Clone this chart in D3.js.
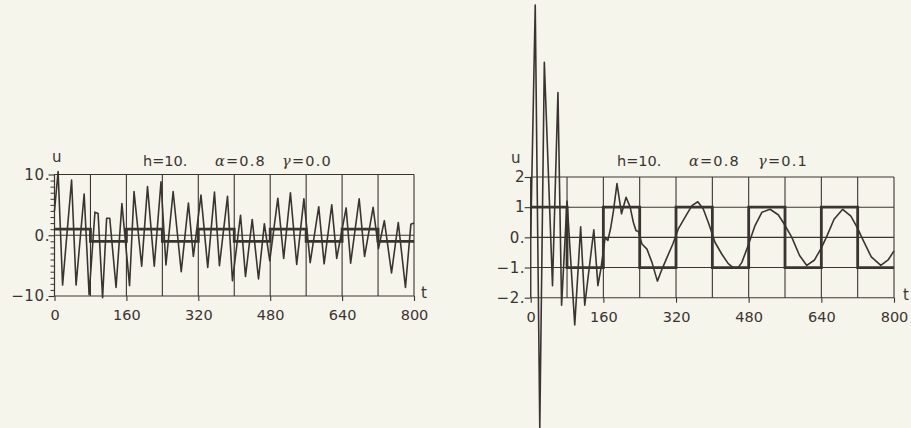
<!DOCTYPE html>
<html>
<head>
<meta charset="utf-8">
<script src="https://cdn.jsdelivr.net/npm/d3@7"></script>
<style>
  html, body { margin: 0; padding: 0; background: #f6f5ec; }
  svg { display: block; }
  text { font-family: "DejaVu Sans", sans-serif; fill: #3a3431; }
</style>
</head>
<body>
<svg id="chart" width="911" height="428"></svg>
<script>
// ---------- data ----------
const xTicks = [0, 160, 320, 480, 640, 800];
const xTickLabels = ["0", "160", "320", "480", "640", "800"];
const gridT = [0, 80, 160, 240, 320, 400, 480, 560, 640, 720, 800];

// reference square wave: level held from each switch time
const squareT = [0, 80, 160, 240, 320, 400, 480, 560, 640, 720, 800];
const squareLevel = [1, -1, 1, -1, 1, -1, 1, -1, 1, -1, -1];

// left panel  (h=10, alpha=0.8, gamma=0.0)
const leftYTicks = [-10, 0, 10];
const leftYLabels = ["\u221210.", "0.", "10."];
const leftT = [0, 8, 18, 38, 48, 66, 77, 90, 97, 107, 116, 123, 137, 150, 167, 177, 194, 207, 222, 237,
  248, 264, 282, 298, 309, 326, 341, 356, 367, 385, 396, 414, 425, 440, 454, 467, 479, 497, 510,
  525, 539, 555, 569, 588, 600, 617, 628, 649, 659, 678, 690, 709, 721, 734, 750, 765, 781, 793, 800];
const leftU = [4, 10.5, -8.2, 9.1, -8.2, 6.8, -9.8, 3.8, 3.6, -10.3, 2.8, 2.8, -8.6, 5.2, -8.3, 7.2, -5.1, 8.0, -5.1, 8.8,
  -4.9, 7.2, -6.0, 5.3, -3.5, 6.6, -5.3, 7.1, -5.0, 6.4, -7.5, 3.3, -6.8, 2.6, -7.2, 1.9, -4.2, 6.1, -3.8,
  7.0, -4.8, 6.0, -4.5, 4.7, -4.7, 5.0, -3.8, 4.5, -4.6, 6.0, -3.5, 4.6, -2.2, 2.4, -6.2, 2.1, -8.6, 1.8, 2.0];

// right panel (h=10, alpha=0.8, gamma=0.1)
const rightYTicks = [-2, -1, 0, 1, 2];
const rightYLabels = ["\u22122.", "\u22121.", "0.", "1", "2"];
const rightT = [0, 10, 20, 30, 48, 60, 68, 80, 97, 110, 119, 139, 148, 155, 164, 170, 176, 182, 190, 200,
  210, 219, 226, 232, 237, 245, 256, 267, 279, 289, 300, 313, 325, 340, 355, 368, 380, 391, 406, 421,
  435, 446, 457, 465, 480, 494, 509, 527, 545, 560, 575, 592, 608, 625, 640, 651, 668, 687, 705, 720,
  729, 750, 771, 787, 800];
const rightU = [0, 7.7, -6.3, 5.8, -1.6, 4.8, -2.25, 1.2, -2.9, 0.35, -2.25, 0.25, -1.6, -1.0, 0.0, -0.1, 0.3, 0.85, 1.78, 0.78,
  1.33, 1.0, 0.5, 0.22, 0.2, -0.22, -0.39, -0.83, -1.45, -1.06, -0.67, -0.22, 0.28, 0.67, 1.05, 1.18, 0.94, 0.5, -0.17, -0.56,
  -0.87, -1.0, -1.0, -0.83, -0.22, 0.39, 0.83, 0.93, 0.75, 0.4, 0.0, -0.6, -0.93, -0.75, -0.35, 0.0, 0.6, 0.93, 0.7, 0.3,
  0.0, -0.65, -0.93, -0.75, -0.45];

// ---------- drawing ----------
const ink = "#3a3431";
const svg = d3.select("#chart");

function panel(cfg) {
  const x = d3.scaleLinear().domain([0, 800]).range(cfg.xRange);
  const y = d3.scaleLinear().domain(cfg.yDomain).range(cfg.yRange);
  const g = svg.append("g");

  // vertical grid lines
  g.selectAll("line.vg").data(gridT).join("line")
    .attr("x1", d => x(d)).attr("x2", d => x(d))
    .attr("y1", y(cfg.yDomain[0])).attr("y2", y(cfg.yDomain[1]))
    .attr("stroke", ink).attr("stroke-width", 1.1);
  // horizontal grid lines
  g.selectAll("line.hg").data(cfg.hGrid).join("line")
    .attr("x1", x(0)).attr("x2", x(800))
    .attr("y1", d => y(d)).attr("y2", d => y(d))
    .attr("stroke", ink).attr("stroke-width", 1.1);

  // x axis
  const xa = g.append("g").attr("transform", `translate(0,${y(cfg.yDomain[0])})`)
    .call(d3.axisBottom(x).tickValues(xTicks).tickSize(5).tickPadding(9)
      .tickFormat((d, i) => xTickLabels[i]));
  xa.select(".domain").remove();
  xa.selectAll("line").attr("stroke", ink).attr("stroke-width", 1.1);
  xa.selectAll("text").attr("font-size", 14.5).attr("fill", ink)
    .attr("font-family", "DejaVu Sans, sans-serif");

  // y axis
  const ya = g.append("g").attr("transform", `translate(${x(0)},0)`)
    .call(d3.axisLeft(y).tickValues(cfg.yTicks).tickSize(6).tickPadding(cfg.yPad)
      .tickFormat((d, i) => cfg.yLabels[i]));
  ya.select(".domain").attr("stroke", ink).attr("stroke-width", 1.1).attr("d",
    `M0,${y(cfg.yDomain[0])}V${y(cfg.yDomain[1])}`);
  ya.selectAll("line").attr("stroke", ink).attr("stroke-width", 1.1);
  ya.selectAll("text").attr("font-size", 15).attr("letter-spacing", 0.6).attr("fill", ink)
    .attr("font-family", "DejaVu Sans, sans-serif");

  if (cfg.minor) {
    const ym = g.append("g").attr("transform", `translate(${x(0)},0)`)
      .call(d3.axisLeft(y).tickValues(cfg.minor).tickSize(4).tickFormat(""));
    ym.select(".domain").remove();
    ym.selectAll("line").attr("stroke", ink).attr("stroke-width", 1);
  }

  // square wave
  const sq = d3.line().x(d => x(d[0])).y(d => y(d[1])).curve(d3.curveStepAfter);
  g.append("path").datum(squareT.map((t, i) => [t, squareLevel[i]]))
    .attr("d", sq).attr("fill", "none").attr("stroke", ink).attr("stroke-width", cfg.sqWidth);

  // response
  const ln = d3.line().x(d => x(d[0])).y(d => y(d[1]));
  g.append("path").datum(cfg.t.map((t, i) => [t, cfg.u[i]]))
    .attr("d", ln).attr("fill", "none").attr("stroke", ink)
    .attr("stroke-width", 1.6).attr("stroke-linejoin", "round");

  // labels
  g.append("text").attr("x", cfg.uPos[0]).attr("y", cfg.uPos[1]).attr("font-size", 15).text("u");
  g.append("text").attr("x", cfg.tPos[0]).attr("y", cfg.tPos[1]).attr("font-size", 15).text("t");
  cfg.title.forEach(p => {
    const tx = g.append("text").attr("x", p.x).attr("y", cfg.titleY).attr("font-size", 14.5);
    if (p.greek) {
      tx.attr("letter-spacing", 1.2);
      tx.append("tspan").attr("font-style", "italic").attr("font-family", "DejaVu Serif, serif").text(p.greek);
      tx.append("tspan").text(p.rest);
    } else {
      tx.text(p.rest);
    }
  });
}

panel({
  xRange: [54.5, 414], yDomain: [-10, 10], yRange: [296, 174.5],
  hGrid: [-10, 0, 10], yTicks: leftYTicks, yLabels: leftYLabels, yPad: -1.5,
  minor: d3.range(-10, 11, 1).filter(v => v % 10 !== 0),
  sqWidth: 2.8, t: leftT, u: leftU,
  uPos: [52, 162], tPos: [421, 298], titleY: 165.5,
  title: [{x: 143, rest: "h=10."},
          {x: 215, greek: "\u03b1", rest: "=0.8"},
          {x: 282, greek: "\u03b3", rest: "=0.0"}]
});

panel({
  xRange: [530.7, 894], yDomain: [-2, 2], yRange: [297.7, 177],
  hGrid: [-2, -1, 0, 1, 2], yTicks: rightYTicks, yLabels: rightYLabels, yPad: -0.5,
  minor: null,
  sqWidth: 2.8, t: rightT, u: rightU,
  uPos: [511, 163], tPos: [903, 300], titleY: 165.5,
  title: [{x: 617, rest: "h=10."},
          {x: 689, greek: "\u03b1", rest: "=0.8"},
          {x: 758, greek: "\u03b3", rest: "=0.1"}]
});
</script>
</body>
</html>
